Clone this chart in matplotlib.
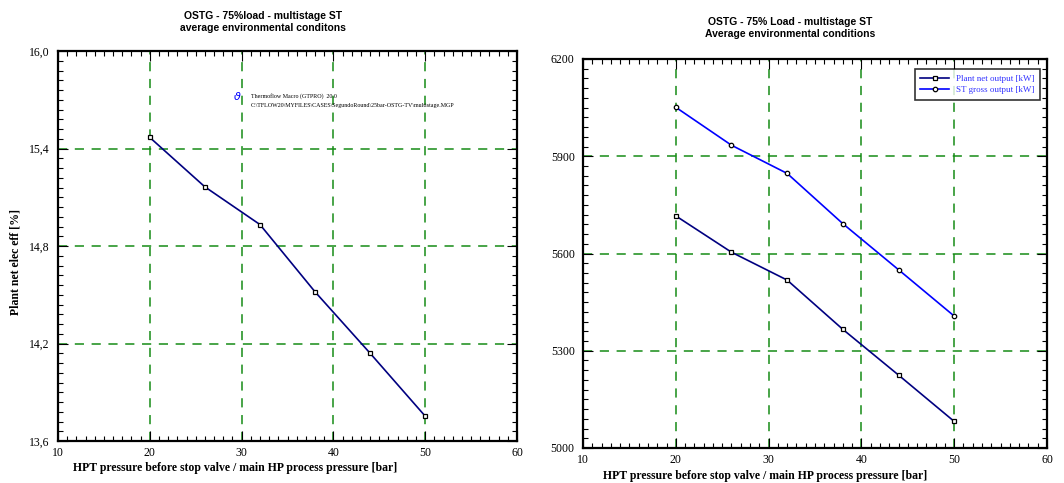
import numpy as np
import matplotlib.pyplot as plt
from matplotlib.ticker import FixedLocator, MultipleLocator, FuncFormatter

# Presión HP (bar)
pressure = [20, 26, 32, 38, 44, 50]
# Eficiencia eléctrica neta de planta (%)
net_eff = [15.468, 15.164, 14.932, 14.518, 14.14, 13.753]
# Potencias (kW)
net_output = [5716, 5604, 5518, 5366, 5225, 5082]
gross_output = [6051, 5934, 5847, 5692, 5550, 5407]

x_label = "HPT pressure before stop valve / main HP process pressure [bar]"
serif = "Liberation Serif"
sans = "Liberation Sans"
grid_green = "#168c16"

fig = plt.figure(figsize=(10.64, 4.83), dpi=100)
W, H = 1064, 483


def box(x0, x1, y0, y1):
    # caja en píxeles -> fracción de figura
    return [x0 / W, 1 - y1 / H, (x1 - x0) / W, (y1 - y0) / H]


def style_axes(ax, ymin, ymax, ymaj, ymin_step, fmt):
    ax.set_xlim(10, 60)
    ax.set_ylim(ymin, ymax)
    ax.xaxis.set_major_locator(MultipleLocator(10))
    ax.xaxis.set_minor_locator(MultipleLocator(1))
    majors = ymin + ymaj * np.arange(round((ymax - ymin) / ymaj) + 1)
    minors = ymin + ymin_step * np.arange(round((ymax - ymin) / ymin_step) + 1)
    ax.yaxis.set_major_locator(FixedLocator(majors))
    ax.yaxis.set_minor_locator(FixedLocator(minors))
    ax.yaxis.set_major_formatter(FuncFormatter(fmt))
    ax.tick_params(which="both", direction="in", top=True, right=True,
                   labelsize=8.5, pad=6, width=0.8)
    ax.tick_params(axis="x", pad=4)
    ax.tick_params(which="major", length=7)
    ax.tick_params(which="minor", length=3.5)
    for lab in ax.get_xticklabels() + ax.get_yticklabels():
        lab.set_fontfamily(serif)
    for s in ax.spines.values():
        s.set_linewidth(1.6)
    # rejilla verde discontinua solo en las líneas interiores
    for xv in [20, 30, 40, 50]:
        ax.axvline(xv, color=grid_green, lw=1.1, ls=(0, (6, 5)), zorder=0)
    for yv in majors[1:-1]:
        ax.axhline(yv, color=grid_green, lw=1.1, ls=(0, (6, 5)), zorder=0)


# --- Gráfico izquierdo: eficiencia ---
ax1 = fig.add_axes(box(58, 517, 51, 441))
style_axes(ax1, 13.6, 16.0, 0.6, 0.06, lambda v, p: f"{v:.1f}".replace(".", ","))
ax1.plot(pressure, net_eff, color="#000080", lw=1.2, marker="s", ms=3.2,
         mfc="white", mec="black", mew=0.9)
ax1.text(0.39, 0.885, "$\\vartheta$", transform=ax1.transAxes, color="blue",
         fontsize=8, fontweight="bold", va="center", ha="center")
ax1.text(0.42, 0.885, "Thermoflow Macro (GTPRO)  20.0", transform=ax1.transAxes,
         fontsize=4.3, family=serif, va="center")
ax1.text(0.42, 0.86, "C:\\TFLOW20\\MYFILES\\CASES\\SegundoRound\\25bar-OSTG-TV\\multistage.MGP",
         transform=ax1.transAxes, fontsize=4.3, family=serif, va="center")

fig.text(263 / W, 1 - 22 / H, "OSTG - 75%load - multistage ST\naverage environmental conditons",
         ha="center", va="center", fontsize=7.5, fontweight="bold", family=sans,
         linespacing=1.2)
fig.text(235 / W, 1 - 468 / H, x_label, ha="center", va="center", fontsize=8.5,
         fontweight="bold", family=serif)
fig.text(16 / W, 1 - 262 / H, "Plant net elec eff [%]", ha="center", va="center",
         rotation=90, fontsize=8.5, fontweight="bold", family=serif)

# --- Gráfico derecho: potencias ---
ax2 = fig.add_axes(box(583, 1047, 59, 448))
style_axes(ax2, 5000, 6200, 300, 30, lambda v, p: f"{v:.0f}")
ax2.plot(pressure, net_output, color="#000080", lw=1.2, marker="s", ms=3.2,
         mfc="white", mec="black", mew=0.9, label="Plant net output [kW]")
ax2.plot(pressure, gross_output, color="#0000ff", lw=1.2, marker="o", ms=3.2,
         mfc="white", mec="black", mew=0.9, label="ST gross output [kW]")
leg = ax2.legend(loc="upper right", bbox_to_anchor=(0.995, 0.985),
                 prop={"family": serif, "size": 6.5}, frameon=True, fancybox=False,
                 edgecolor="black", borderpad=0.6, handlelength=3.2, labelspacing=0.3)
leg.get_frame().set_linewidth(1.2)
for t in leg.get_texts():
    t.set_color("#3333ff")

fig.text(790 / W, 1 - 28 / H, "OSTG - 75% Load - multistage ST\nAverage environmental conditions",
         ha="center", va="center", fontsize=7.5, fontweight="bold", family=sans,
         linespacing=1.2)
fig.text(765 / W, 1 - 476 / H, x_label, ha="center", va="center", fontsize=8.5,
         fontweight="bold", family=serif)

fig.savefig("out.png", dpi=100)
